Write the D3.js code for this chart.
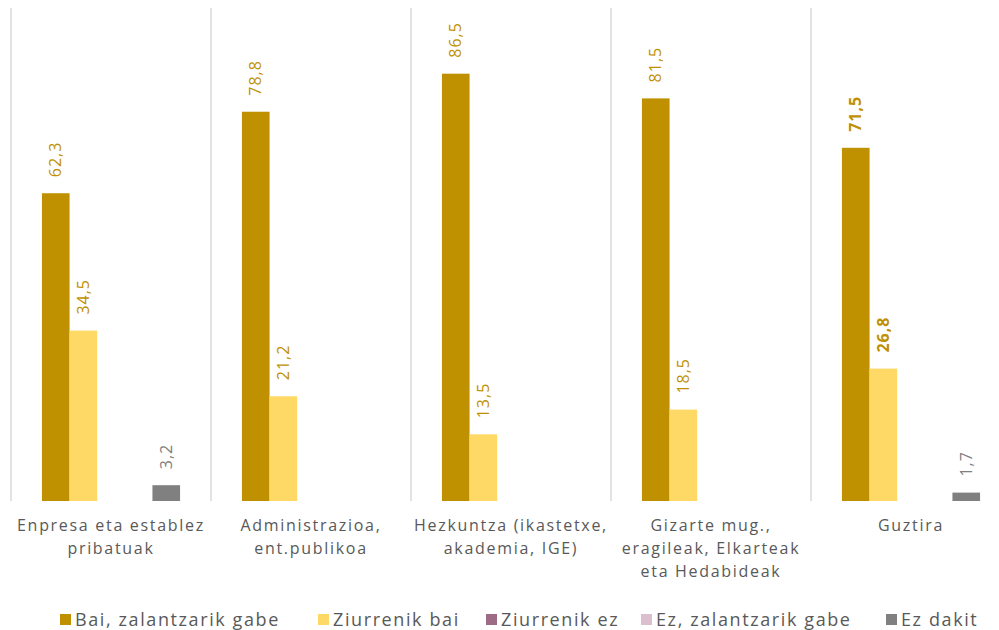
<!DOCTYPE html>
<html><head><meta charset="utf-8">
<script src="https://cdn.jsdelivr.net/npm/d3@7"></script>
<style>
body{margin:0;background:#fff;}
svg{display:block;font-family:"Open Sans",sans-serif;}
</style></head>
<body><svg id="c" width="999" height="630"></svg>
<script>
const categories = [
  ["Enpresa eta establez","pribatuak"],
  ["Administrazioa,","ent.publikoa"],
  ["Hezkuntza (ikastetxe,","akademia, IGE)"],
  ["Gizarte mug.,","eragileak, Elkarteak","eta Hedabideak"],
  ["Guztira"]
];
const seriesNames = ["Bai, zalantzarik gabe","Ziurrenik bai","Ziurrenik ez","Ez, zalantzarik gabe","Ez dakit"];
const seriesColors = ["#bf9000","#ffd966","#9e6b86","#dbbfcf","#808080"];
const labelColors = ["#bf9000","#bf9000","#9e6b86","#dbbfcf","#808080"];
const bai = [62.3, 78.8, 86.5, 81.5, 71.5];
const ziurrenikBai = [34.5, 21.2, 13.5, 18.5, 26.8];
const ziurrenikEz = [null, null, null, null, null];
const ezZalantzarik = [null, null, null, null, null];
const ezDakit = [3.2, null, null, null, 1.7];
const seriesValues = [bai, ziurrenikBai, ziurrenikEz, ezZalantzarik, ezDakit];
const boldLabels = [[false,false,false,false,false],[false,false,false,false,false],[false,false,false,false,false],[false,false,false,false,false],[true,true,false,false,false]];

const svg = d3.select("#c");
const x0 = d3.scaleBand().domain(d3.range(categories.length)).range([11, 1011]).paddingInner(0).paddingOuter(0);
const x1 = d3.scaleBand().domain(d3.range(seriesNames.length)).range([0, x0.bandwidth()]).paddingInner(0).paddingOuter(1.12);
const y = d3.scaleLinear().domain([0, 100]).range([501, 7]);

// separators
svg.append("g").selectAll("line").data(d3.range(categories.length)).join("line")
  .attr("x1", i => x0(i)).attr("x2", i => x0(i))
  .attr("y1", y(100)+1).attr("y2", y(0))
  .attr("stroke", "#d9d9d9").attr("stroke-width", 1.5);

const groups = svg.append("g").selectAll("g").data(categories).join("g")
  .attr("transform", (d, i) => `translate(${x0(i)},0)`);

groups.each(function(cat, ci){
  const g = d3.select(this);
  seriesValues.forEach((vals, si) => {
    const v = vals[ci];
    if (v == null) return;
    g.append("rect")
      .attr("x", x1(si)).attr("width", x1.bandwidth())
      .attr("y", y(v)).attr("height", y(0) - y(v))
      .attr("fill", seriesColors[si]);
    const lx = x1(si) + x1.bandwidth()/2, ly = y(v) - 16;
    g.append("text")
      .attr("transform", `translate(${lx},${ly}) rotate(-90)`)
      .attr("dy", "0.35em")
      .attr("text-anchor", "start")
      .attr("font-size", 16)
      .attr("letter-spacing", 1)
      .attr("font-weight", boldLabels[ci][si] ? 700 : 400)
      .attr("fill", labelColors[si])
      .text(d3.format(".1f")(v).replace(".", ","));
  });
  // category label
  const t = g.append("text").attr("text-anchor", "middle").attr("font-size", 16)
    .attr("letter-spacing", 1.7)
    .attr("fill", "#595959");
  cat.forEach((line, li) => {
    t.append("tspan").attr("x", x0.bandwidth()/2).attr("y", 531 + li*23).text(line);
  });
});

// legend
const legendX = [60, 318, 486, 641, 886];
const lg = svg.append("g").selectAll("g").data(seriesNames).join("g")
  .attr("transform", (d, i) => `translate(${legendX[i]},619.5)`);
lg.append("rect").attr("x", 0).attr("y", -5.5).attr("width", 11).attr("height", 11)
  .attr("fill", (d, i) => seriesColors[i]);
lg.append("text").attr("x", 15).attr("y", 0).attr("dy", "0.36em")
  .attr("font-size", 18).attr("letter-spacing", 1.6).attr("fill", "#595959").text(d => d);
</script></body></html>
